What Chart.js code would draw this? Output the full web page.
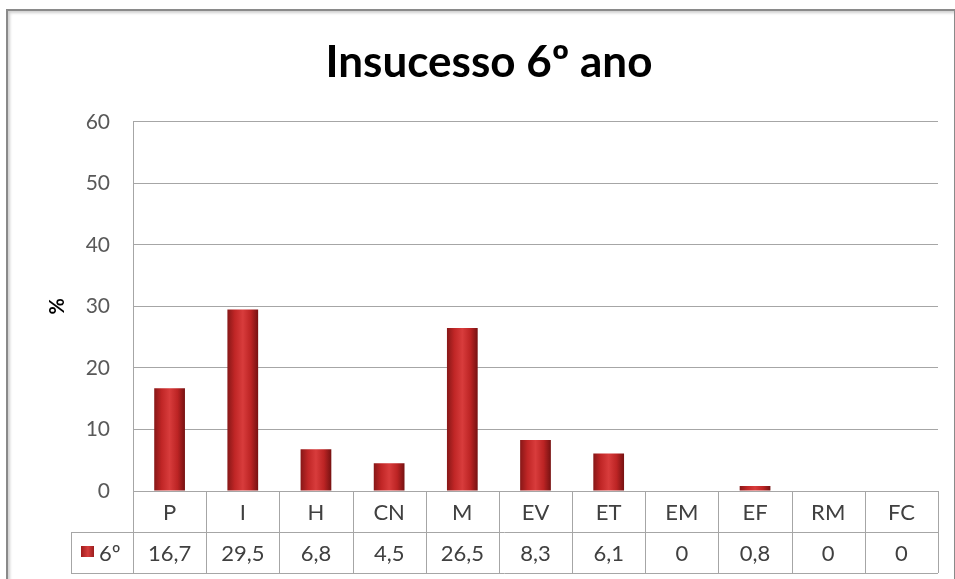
<!DOCTYPE html>
<html>
<head>
<meta charset="utf-8">
<script src="https://cdn.jsdelivr.net/npm/chart.js@4/dist/chart.umd.min.js"></script>
<style>
  html, body { margin: 0; padding: 0; background: #fff; }
  #wrap { position: relative; width: 955px; height: 579px; overflow: hidden; }
  #frame {
    position: absolute; left: 6px; top: 9px; width: 946px; height: 600px;
    border: 2px solid #8a8a8a; box-shadow: 2px 2px 3px #d0d0d0 inset;
    pointer-events: none;
  }
  canvas { position: absolute; left: 0; top: 0; }
</style>
</head>
<body>
<div id="wrap">
  <canvas id="chart" width="955" height="579"></canvas>
  <div id="frame"></div>
</div>
<script>
// chart data
const categories = ["P", "I", "H", "CN", "M", "EV", "ET", "EM", "EF", "RM", "FC"];
const values6 = [16.7, 29.5, 6.8, 4.5, 26.5, 8.3, 6.1, 0, 0.8, 0, 0];
const seriesName = "6º";
const yTicks = [0, 10, 20, 30, 40, 50, 60];

const FONT = "Lato, 'Noto Sans', sans-serif";

// bar fill: cylinder-like gradient across each bar
function barFill(ctx) {
  const chart = ctx.chart;
  if (!chart.chartArea || !chart.scales.x) return "#c0282a";
  const x = chart.scales.x.getPixelForValue(ctx.dataIndex);
  const half = 16;
  const g = chart.ctx.createLinearGradient(x - half, 0, x + half, 0);
  g.addColorStop(0, "#821616");
  g.addColorStop(0.25, "#c02626");
  g.addColorStop(0.5, "#d83c3c");
  g.addColorStop(0.75, "#bc2424");
  g.addColorStop(1, "#701010");
  return g;
}

// data table under the plot
const dataTable = {
  id: "dataTable",
  afterDraw(chart) {
    const c = chart.ctx;
    const area = chart.chartArea;
    const xs = chart.scales.x;
    const top = area.bottom;
    const rowH = 41;
    const left = 71;
    const colW = (area.right - area.left) / categories.length;
    c.save();
    c.strokeStyle = "#a6a6a6";
    c.lineWidth = 1;
    c.beginPath();
    c.moveTo(area.left, top + 0.5); c.lineTo(area.right, top + 0.5);
    c.moveTo(left, top + rowH + 0.5); c.lineTo(area.right, top + rowH + 0.5);
    c.moveTo(left, top + 2 * rowH + 0.5); c.lineTo(area.right, top + 2 * rowH + 0.5);
    c.moveTo(left + 0.5, top + rowH); c.lineTo(left + 0.5, top + 2 * rowH);
    for (let i = 0; i <= categories.length; i++) {
      const bx = Math.round(area.left + i * colW) + 0.5;
      c.moveTo(bx, top); c.lineTo(bx, top + 2 * rowH);
    }
    c.stroke();

    c.fillStyle = "#404040";
    c.font = "22px " + FONT;
    c.textAlign = "center";
    c.textBaseline = "middle";
    categories.forEach((cat, i) => {
      const cx = xs.getPixelForValue(i);
      c.fillText(cat, cx, top + rowH / 2 + 1);
      c.fillText(String(values6[i]).replace(".", ","), cx, top + rowH * 1.5 + 1);
    });

    // legend key
    const kg = c.createLinearGradient(81, 0, 95, 0);
    kg.addColorStop(0, "#a01c1c");
    kg.addColorStop(0.5, "#d63c3c");
    kg.addColorStop(1, "#901818");
    c.fillStyle = kg;
    c.fillRect(81, top + rowH + 14, 13, 11);
    c.fillStyle = "#404040";
    c.textAlign = "left";
    c.fillText(seriesName, 99, top + rowH * 1.5 + 1);
    c.restore();
  }
};

new Chart(document.getElementById("chart"), {
  type: "bar",
  data: {
    labels: categories,
    datasets: [{
      label: seriesName,
      data: values6,
      backgroundColor: barFill,
      borderWidth: 0,
      categoryPercentage: 1,
      barPercentage: 0.42
    }]
  },
  options: {
    responsive: false,
    animation: false,
    layout: { padding: { left: 40, right: 17, top: 0, bottom: 88 } },
    plugins: {
      legend: { display: false },
      tooltip: { enabled: false },
      title: {
        display: true,
        text: "Insucesso 6º ano",
        color: "#000",
        font: { family: FONT, size: 44, weight: "bold" },
        padding: { top: 36, bottom: 33 }
      }
    },
    scales: {
      x: { display: false },
      y: {
        min: 0,
        max: 60,
        afterBuildTicks(scale) {
          scale.ticks = yTicks.map(v => ({ value: v }));
        },
        afterFit(scale) { scale.width = 93; },
        ticks: {
          color: "#595959",
          font: { family: FONT, size: 21 },
          padding: 23
        },
        grid: { color: "#a6a6a6", drawTicks: false },
        border: { color: "#a6a6a6" },
        title: {
          display: true,
          text: "%",
          color: "#000",
          font: { family: FONT, size: 20, weight: "bold" },
          padding: { top: 6 }
        }
      }
    }
  },
  plugins: [dataTable]
});
</script>
</body>
</html>
